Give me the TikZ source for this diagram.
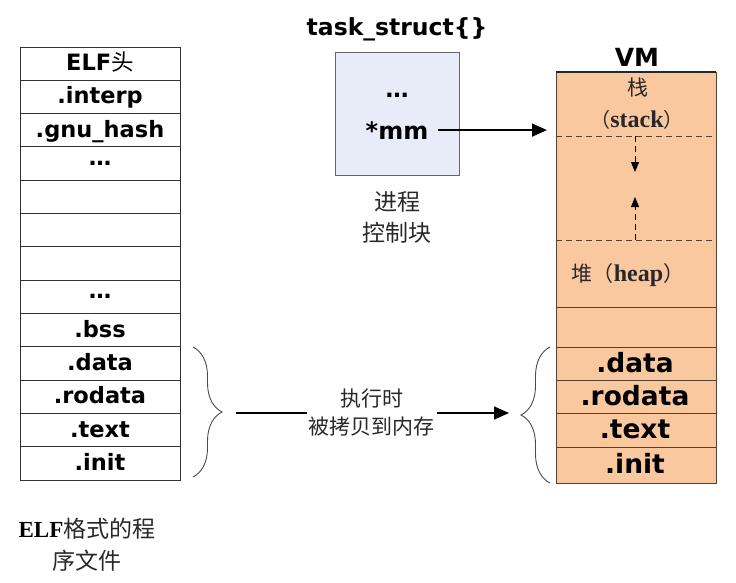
\documentclass[tikz,border=0pt]{standalone}
\usepackage{fontspec}
\usetikzlibrary{arrows.meta,decorations.pathreplacing}
\newfontfamily\vfont{DejaVu Sans}
\newfontfamily\cjk{Noto Sans CJK SC}
\newfontfamily\serf{Liberation Serif}
\definecolor{vmfill}{RGB}{250,200,158}
\definecolor{taskfill}{RGB}{232,236,248}
\definecolor{vmline}{RGB}{85,65,50}
\definecolor{bracegray}{RGB}{75,75,75}
\definecolor{cjktext}{RGB}{40,40,40}
\begin{document}
\begin{tikzpicture}[x=1pt,y=1pt,
  cellbase/.style={draw=black!80, line width=0.9pt, minimum width=160pt, minimum height=33.31pt, inner sep=0pt, outer sep=0pt, font=\vfont\bfseries\fontsize{22.5}{24}\selectfont},
  cell/.style={cellbase, text height=16pt, text depth=2pt},
  vcell/.style={fill=vmfill, draw=none, minimum width=160pt, inner sep=0pt, outer sep=0pt},
  vlabel/.style={font=\vfont\bfseries\fontsize{26.5}{28}\selectfont, anchor=base, inner sep=0pt},
  vline/.style={draw=vmline, line width=0.9pt},
  vdash/.style={draw=vmline, line width=0.9pt, dash pattern=on 6pt off 4pt},
  arr/.style={line width=1.6pt, -{Triangle[length=15pt,width=13pt]}},
  darr/.style={line width=0.9pt, dash pattern=on 6pt off 4pt, -{Triangle[length=10pt,width=8pt]}},
  bracestyle/.style={draw=bracegray, line width=0.9pt, decorate, decoration={brace, amplitude=29pt}},
  cjklabel/.style={font=\cjk\fontsize{21}{28}\selectfont, text=cjktext, align=center, inner sep=0pt},
]
\useasboundingbox (0,0) rectangle (736,-582);
\fill[white] (0,0) rectangle (736,-582);

% ---- ELF file column ----
\node[cell] (c0) at (100,-63.65) {ELF{\cjk\mdseries 头}};
\node[cell] (c1) at (100,-96.96) {.interp};
\node[cell] (c2) at (100,-130.27) {.gnu\_hash};
\node[cellbase] (c3) at (100,-163.58) {\raisebox{1pt}{…}};
\node[cell] (c4) at (100,-196.89) {};
\node[cell] (c5) at (100,-230.2) {};
\node[cell] (c6) at (100,-263.51) {};
\node[cellbase] (c7) at (100,-296.82) {\raisebox{1pt}{…}};
\node[cell] (c8) at (100,-330.13) {.bss};
\node[cell] (c9) at (100,-363.44) {.data};
\node[cell] (c10) at (100,-396.75) {.rodata};
\node[cell] (c11) at (100,-430.06) {.text};
\node[cell] (c12) at (100,-463.37) {.init};

\node[font=\cjk\fontsize{23}{32}\selectfont, text=cjktext, align=center, inner sep=0pt] (elfcap) at (87,-545) {{\serf\bfseries\color{black}ELF}格式的程\\序文件};

% ---- task_struct ----
\node[font=\vfont\bfseries\fontsize{23.5}{26}\selectfont, anchor=base, inner sep=0pt] (title) at (397,-35) {task\_struct\{\}};
\node[draw=black!60, line width=0.9pt, fill=taskfill, minimum width=124pt, minimum height=123pt, inner sep=0pt, outer sep=0pt] (task) at (397,-113.5) {};
\node[font=\vfont\bfseries\fontsize{23}{26}\selectfont, inner sep=0pt] (tdots) at (397,-95) {…};
\node[font=\vfont\bfseries\fontsize{24}{26}\selectfont, anchor=base, inner sep=0pt] (mm) at (397,-139) {*mm};
\node[font=\cjk\fontsize{23}{31}\selectfont, text=cjktext, align=center, inner sep=0pt] (pcb) at (397,-217.5) {进程\\控制块};

% ---- VM column ----
\node[font=\vfont\bfseries\fontsize{25}{28}\selectfont, anchor=base, inner sep=0pt] (vmtitle) at (637,-66) {VM};
\node[vcell, minimum height=64pt] (vstack) at (636,-104) {};
\node[vcell, minimum height=104pt] (vmid) at (636,-188) {};
\node[vcell, minimum height=67pt] (vheap) at (636,-273.5) {};
\node[vcell, minimum height=40pt] (vfree) at (636,-327) {};
\node[vcell, minimum height=33pt] (vdata) at (636,-363.5) {};
\node[vcell, minimum height=33pt] (vrodata) at (636,-396.5) {};
\node[vcell, minimum height=34pt] (vtext) at (636,-430) {};
\node[vcell, minimum height=36pt] (vinit) at (636,-465) {};

\draw[vline] (vstack.north west) rectangle (vinit.south east);
\draw[draw=black!85, line width=2pt] (vstack.north west) -- (vstack.north east);
\draw[vdash] (vmid.north west) -- (vmid.north east);
\draw[vdash] (vmid.south west) -- (vmid.south east);
\draw[vline] (vfree.north west) -- (vfree.north east);
\draw[vline] (vdata.north west) -- (vdata.north east);
\draw[vline] (vrodata.north west) -- (vrodata.north east);
\draw[vline] (vtext.north west) -- (vtext.north east);
\draw[vline] (vinit.north west) -- (vinit.north east);

\node[font=\cjk\fontsize{21}{21}\selectfont, text=cjktext, inner sep=0pt] (zhan) at (638,-88) {栈};
\node[anchor=base, inner sep=0pt, text=cjktext] (stacken) at (637,-127) {{\cjk\fontsize{20}{20}\selectfont （}{\serf\bfseries\fontsize{24}{24}\selectfont stack}{\cjk\fontsize{20}{20}\selectfont ）}};
\node[anchor=base, inner sep=0pt, text=cjktext] (heap) at (628,-281) {{\cjk\fontsize{21}{21}\selectfont 堆（}{\serf\bfseries\fontsize{24}{24}\selectfont heap}{\cjk\fontsize{21}{21}\selectfont ）}};

\coordinate (downend) at (635,-172);
\coordinate (upend) at (635,-197);
\draw[darr] (downend |- vmid.north) -- (downend);
\draw[darr] (upend |- vmid.south) -- (upend);

\node[vlabel] (vdatal) at (635,-372) {.data};
\node[vlabel] (vrodatal) at (635,-405) {.rodata};
\node[vlabel] (vtextl) at (635,-438.5) {.text};
\node[vlabel] (vinitl) at (635,-473.5) {.init};

% ---- connectors ----
\draw[arr] ([xshift=10pt]mm.east) -- ([xshift=-9pt]vstack.west |- mm.east);

\coordinate (lbtop) at (193,-347);
\coordinate (lbbot) at (193,-477);
\coordinate (rbtop) at (550,-347);
\coordinate (rbbot) at (550,-483);
\draw[bracestyle] (lbtop) -- (lbbot);
\draw[bracestyle] (rbbot) -- (rbtop);

\coordinate (lbtip) at (222,-413);
\coordinate (rbtip) at (521,-413);
\draw[arr, shorten <=14pt, shorten >=12pt] (lbtip) -- node[cjklabel, fill=white, inner xsep=2pt, inner ysep=2pt] (copy) {执行时\\被拷贝到内存} (rbtip);
\end{tikzpicture}
\end{document}
